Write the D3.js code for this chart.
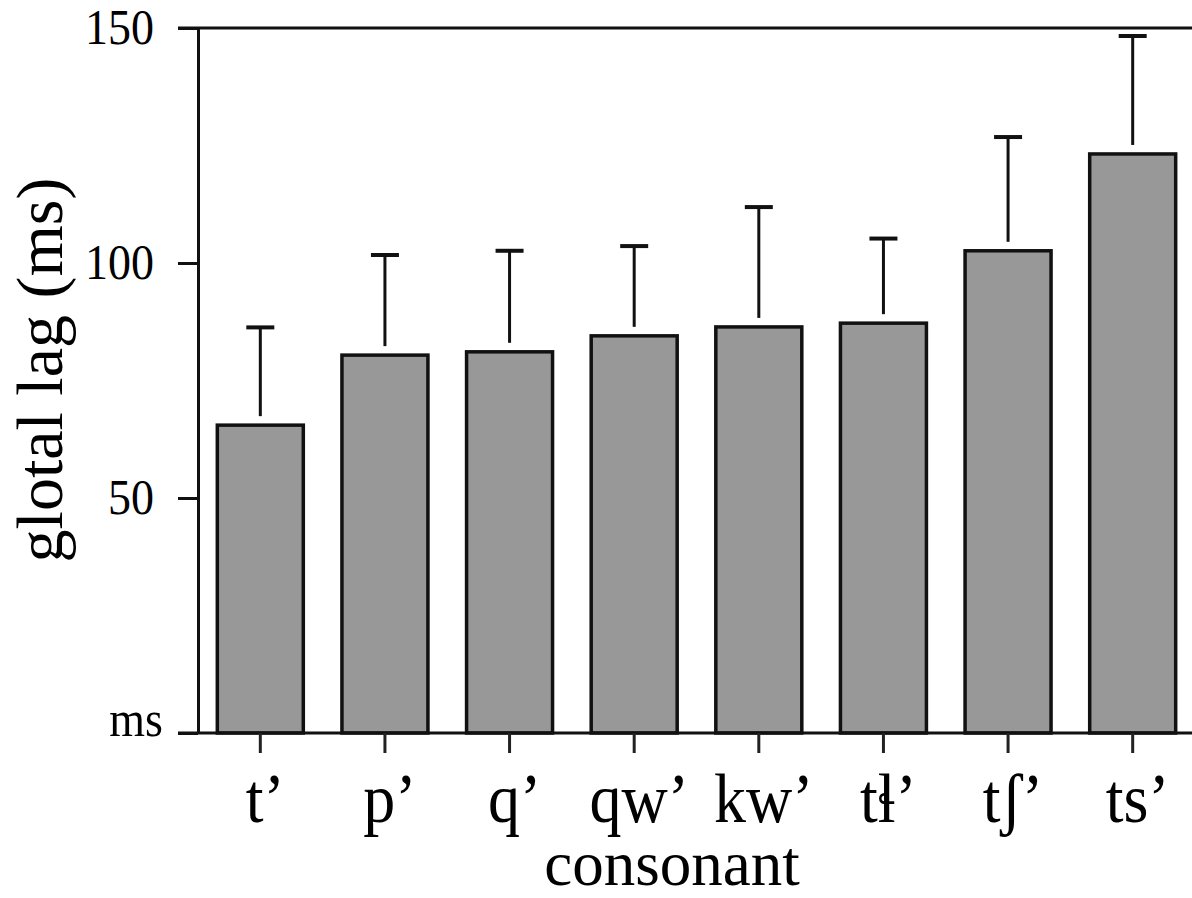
<!DOCTYPE html>
<html>
<head>
<meta charset="utf-8">
<script src="https://cdn.jsdelivr.net/npm/d3@7"></script>
<style>
  html, body { margin: 0; padding: 0; background: #fff; }
  svg { display: block; font-family: "Liberation Serif", "Times New Roman", serif; }
</style>
</head>
<body>
<svg width="1192" height="898"></svg>
<script>
// data
var consonants = ['t\u2019', 'p\u2019', 'q\u2019', 'qw\u2019', 'kw\u2019', 't\u026C\u2019', 't\u0283\u2019', 'ts\u2019'];
var lagMeans = [65.5, 80.4, 81.1, 84.5, 86.4, 87.2, 102.6, 123.2];
var lagSD = [20.8, 21.3, 21.5, 19.1, 25.5, 18.0, 24.2, 25.1];
var yTicks = [0, 50, 100, 150];

var width = 1192;
var height = 898;
var margin = {top: 28, bottom: 165, left: 198, right: 0};
var yBase = height - margin.bottom; // 733

var svg = d3.select('svg');

//scales
var xScale = d3.scaleBand()
    .domain(consonants)
    .range([margin.left, 1195])
    .paddingInner(0.31)
    .paddingOuter(0.155);
var yScale = d3.scaleLinear()
    .domain([0, 150])
    .range([yBase, margin.top]);

var data = consonants.map((c, i) => ({c: c, mean: lagMeans[i], sd: lagSD[i]}));

// bars
svg.append('g').selectAll('rect')
    .data(data)
    .enter().append('rect')
    .attr('x', d => xScale(d.c))
    .attr('y', d => yScale(d.mean))
    .attr('width', xScale.bandwidth())
    .attr('height', d => yBase - yScale(d.mean))
    .attr('fill', '#989898')
    .attr('stroke', '#111')
    .attr('stroke-width', 3.5);

// error bars (upper only)
var errG = svg.append('g')
    .attr('stroke', '#111')
    .attr('stroke-width', 3);
errG.selectAll('line.whisker')
    .data(data)
    .enter().append('line')
    .attr('class', 'whisker')
    .attr('x1', d => xScale(d.c) + xScale.bandwidth() / 2)
    .attr('x2', d => xScale(d.c) + xScale.bandwidth() / 2)
    .attr('y1', d => yScale(d.mean) - 9)
    .attr('y2', d => yScale(d.mean + d.sd));
errG.selectAll('line.cap')
    .data(data)
    .enter().append('line')
    .attr('class', 'cap')
    .attr('stroke-width', 4)
    .attr('x1', d => xScale(d.c) + xScale.bandwidth() / 2 - 14)
    .attr('x2', d => xScale(d.c) + xScale.bandwidth() / 2 + 14)
    .attr('y1', d => yScale(d.mean + d.sd))
    .attr('y2', d => yScale(d.mean + d.sd));

// top frame line and bottom baseline
svg.append('line')
    .attr('x1', margin.left - 20).attr('x2', width)
    .attr('y1', yScale(150)).attr('y2', yScale(150))
    .attr('stroke', '#111').attr('stroke-width', 3);
svg.append('line')
    .attr('x1', margin.left - 20).attr('x2', width)
    .attr('y1', yBase).attr('y2', yBase)
    .attr('stroke', '#111').attr('stroke-width', 3);

// y axis
var yAxis = d3.axisLeft(yScale)
    .tickValues(yTicks)
    .tickSize(20)
    .tickSizeOuter(0)
    .tickFormat(d => d === 0 ? 'ms' : d);
var yG = svg.append('g')
    .attr('transform', 'translate(' + [margin.left, 0] + ')')
    .call(yAxis);
yG.select('.domain').attr('stroke', '#111').attr('stroke-width', 3);
yG.selectAll('.tick line').attr('stroke', '#111').attr('stroke-width', 3);
yG.selectAll('.tick text')
    .attr('x', null).attr('dy', null).attr('y', null)
    .attr('fill', '#000')
    .attr('font-size', 46)
    .attr('font-family', '"Liberation Serif", "Times New Roman", serif')
    .attr('text-anchor', 'end')
    .attr('transform', d => d === 0 ? 'translate(-35,2) scale(1,1.1)' : 'translate(-44,15) scale(1,1.08)');

// x axis
var xAxis = d3.axisBottom(xScale)
    .tickSize(20)
    .tickSizeOuter(0);
var xG = svg.append('g')
    .attr('transform', 'translate(' + [0, yBase] + ')')
    .call(xAxis);
xG.select('.domain').remove();
xG.selectAll('.tick line').attr('stroke', '#222').attr('stroke-width', 3);
xG.selectAll('.tick text')
    .attr('y', null).attr('dy', null)
    .attr('fill', '#000')
    .attr('font-size', 64)
    .attr('font-family', '"Liberation Serif", "Times New Roman", serif')
    .attr('text-anchor', 'middle')
    .attr('transform', 'translate(5,89) scale(1,1.1)');

// axis titles
svg.append('text')
    .attr('x', 672)
    .attr('y', 885)
    .attr('text-anchor', 'middle')
    .attr('font-size', 63)
    .text('consonant');

svg.append('text')
    .attr('transform', 'translate(62,370) rotate(-90)')
    .attr('text-anchor', 'middle')
    .attr('font-size', 66)
    .text('glotal lag (ms)');
</script>
</body>
</html>
